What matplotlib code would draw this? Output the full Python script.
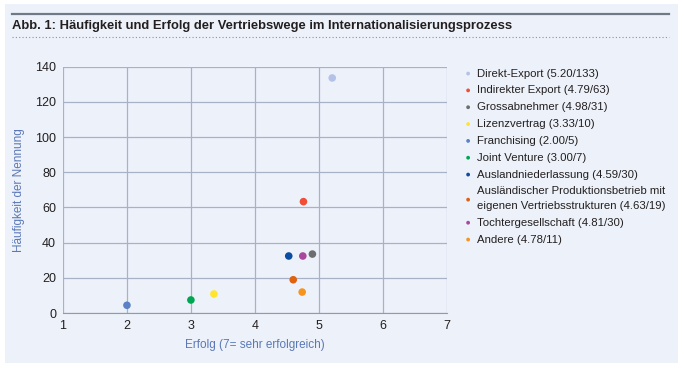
import matplotlib

matplotlib.use("Agg")
import matplotlib.pyplot as plt
from matplotlib import font_manager
from matplotlib.patches import Rectangle
from matplotlib.lines import Line2D

# data
labels = [
    "Direkt-Export (5.20/133)",
    "Indirekter Export (4.79/63)",
    "Grossabnehmer (4.98/31)",
    "Lizenzvertrag (3.33/10)",
    "Franchising (2.00/5)",
    "Joint Venture (3.00/7)",
    "Auslandniederlassung (4.59/30)",
    "Ausländischer Produktionsbetrieb mit\neigenen Vertriebsstrukturen (4.63/19)",
    "Tochtergesellschaft (4.81/30)",
    "Andere (4.78/11)",
]
erfolg = [5.21, 4.76, 4.90, 3.36, 2.00, 3.00, 4.53, 4.60, 4.75, 4.74]
haeufigkeit = [133.6, 63.3, 33.5, 10.8, 4.4, 7.4, 32.4, 18.9, 32.4, 11.9]
colors = ["#B3C2E6", "#F04E37", "#6D6E70", "#FFE52B", "#5A82C5",
          "#00A651", "#0B4DA2", "#E0620F", "#A9499D", "#F7941D"]
x_ticks = [1, 2, 3, 4, 5, 6, 7]
y_ticks = [0, 20, 40, 60, 80, 100, 120, 140]
title = "Abb. 1: Häufigkeit und Erfolg der Vertriebswege im Internationalisierungsprozess"

W, H = 684, 369
bg = "#EDF2FA"
grid_col = "#A7B2C7"
txt = "#231F20"
axis_lbl = "#5B78B6"
body_font = ["Liberation Sans", "DejaVu Sans"]


def has_font(name):
    try:
        font_manager.findfont(name, fallback_to_default=False)
        return True
    except ValueError:
        return False


title_font = "Liberation Sans Narrow" if has_font("Liberation Sans Narrow") else "Liberation Sans"

fig = plt.figure(figsize=(W / 100, H / 100), dpi=100)
fig.patch.set_facecolor("white")

# light panel behind everything
fig.add_artist(Rectangle((5 / W, 1 - 363 / H), 673 / W, 359 / H,
                         transform=fig.transFigure, facecolor=bg, edgecolor="none", zorder=0))
fig.add_artist(Line2D([12 / W, 669 / W], [1 - 14 / H] * 2, transform=fig.transFigure,
                      color="#6F7A86", linewidth=1.6))
fig.add_artist(Line2D([12 / W, 669 / W], [1 - 36.7 / H] * 2, transform=fig.transFigure,
                      color="#8A939C", linewidth=0.8, linestyle=(0, (1, 2))))
t = fig.text(12 / W, 1 - 28.5 / H, title,
             family=[title_font, "DejaVu Sans"], fontweight="bold",
             fontsize=10, color=txt, va="baseline", ha="left")
# fit title to roughly the width it has in the original
r = fig.canvas.get_renderer()
w = t.get_window_extent(r).width
t.set_fontsize(min(10.5, 10 * 505 / w))

ax = fig.add_axes([63 / W, 1 - 313 / H, 383.7 / W, 246.3 / H])
ax.set_facecolor(bg)
ax.set_xlim(1, 7)
ax.set_ylim(0, 140)
ax.set_xticks(x_ticks)
ax.set_yticks(y_ticks)
ax.grid(color=grid_col, linewidth=0.9)
ax.set_axisbelow(True)
for side in ["top", "right", "left"]:
    ax.spines[side].set_visible(False)
ax.spines["bottom"].set_color("#8E9AAE")
ax.tick_params(length=0, colors=txt, labelsize=9, pad=5)
for lab in ax.get_xticklabels() + ax.get_yticklabels():
    lab.set_family(body_font)

for xv, yv, c, lab in zip(erfolg, haeufigkeit, colors, labels):
    ax.scatter(xv, yv, s=30, color=c, edgecolors="none", label=lab, zorder=3)

ax.set_xlabel("Erfolg (7= sehr erfolgreich)", color=axis_lbl, fontsize=8.5,
              family=body_font, labelpad=5)
ax.set_ylabel("Häufigkeit der Nennung", color=axis_lbl, fontsize=8.5,
              family=body_font, labelpad=7)

leg = ax.legend(loc="upper left", bbox_to_anchor=(459 / W, 1 - 64 / H),
                bbox_transform=fig.transFigure, frameon=False,
                prop={"family": body_font, "size": 8.2},
                markerscale=0.5, handletextpad=0.4, labelspacing=0.6,
                handlelength=0.8, borderaxespad=0)
for tx in leg.get_texts():
    tx.set_color(txt)
    tx.set_linespacing(1.56)

fig.savefig("out.png", dpi=100, facecolor=fig.get_facecolor())
